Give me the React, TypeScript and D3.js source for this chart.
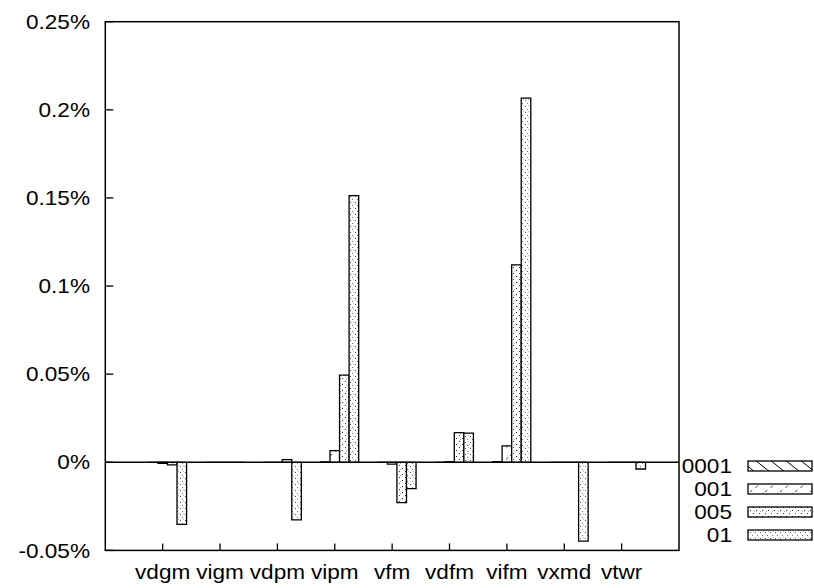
import React from 'react';
import * as d3 from 'd3';

const categories = ['vdgm', 'vigm', 'vdpm', 'vipm', 'vfm', 'vdfm', 'vifm', 'vxmd', 'vtwr'];
const seriesNames = ['0001', '001', '005', '01'];
const s0001 = [0, 0, 0, 0.0002, 0, 0, 0.0003, 0, 0];
const s001 = [-0.0006, 0, 0, 0.0066, -0.001, 0.0003, 0.0093, 0, 0];
const s005 = [-0.0015, 0, 0.0015, 0.0494, -0.0229, 0.0168, 0.112, 0, 0];
const s01 = [-0.0352, 0, -0.0327, 0.1513, -0.015, 0.0165, 0.2066, -0.0447, -0.0038];
const yTickValues = [-0.05, 0, 0.05, 0.1, 0.15, 0.2, 0.25];
const yTickLabels = ['-0.05%', '0%', '0.05%', '0.1%', '0.15%', '0.2%', '0.25%'];

const series = [s0001, s001, s005, s01];
const patternIds = ['p0001', 'p001', 'p005', 'p01'];

const FONT = 'Liberation Sans, Arial, Helvetica, sans-serif';
const FS = 20;
const SX = 1.13;

export default function App() {
  const left = 105.3, right = 679, top = 21.7, bottom = 550.4;
  const x = d3.scaleLinear().domain([0, categories.length + 1]).range([left, right]);
  const y = d3.scaleLinear().domain([-0.05, 0.25]).range([bottom, top]);
  const unit = x(1) - x(0);
  const nS = series.length;
  const bw = unit / (nS + 2);

  const barPath = (x0: number, x1: number, v: number) => {
    const y0 = y(0), y1 = y(v);
    return `M${x0},${y0}H${x1}V${y1}H${x0}Z`;
  };

  return (
    <svg width={814} height={588} style={{ position: 'absolute', left: 0, top: 0, background: '#fff' }}
      fontFamily={FONT} fontSize={FS}>
      <defs>
        <pattern id="p0001" patternUnits="userSpaceOnUse" width={15} height={12}>
          <rect width={15} height={12} fill="#fff" />
          <path d="M-15,-12L30,24M0,-12L30,12M-15,0L15,24" stroke="#000" strokeWidth={1} />
        </pattern>
        <pattern id="p001" patternUnits="userSpaceOnUse" width={15} height={12}>
          <rect width={15} height={12} fill="#fff" />
          <path d="M0,12L15,0" stroke="#444" strokeWidth={1} strokeDasharray="3,4" />
        </pattern>
        <pattern id="p005" patternUnits="userSpaceOnUse" width={6} height={6}>
          <rect width={6} height={6} fill="#fff" />
          <rect x={0} y={0} width={1} height={1} fill="#222" />
          <rect x={3} y={3} width={1} height={1} fill="#444" />
          <rect x={4} y={1} width={1} height={1} fill="#aaa" />
        </pattern>
        <pattern id="p01" patternUnits="userSpaceOnUse" width={5} height={6}>
          <rect width={5} height={6} fill="#fff" />
          <rect x={0} y={4} width={1} height={1} fill="#555" />
          <rect x={2} y={1} width={1} height={1} fill="#777" />
          <rect x={3} y={3} width={1} height={1} fill="#bbb" />
        </pattern>
      </defs>

      {/* bars */}
      {categories.map((c, i) =>
        series.map((s, j) => {
          const x0 = x(i + 1) + (j - 1.5) * bw;
          const x1 = x0 + bw;
          return (
            <path key={`${c}-${j}`} d={barPath(x0, x1, s[i])} fill={`url(#${patternIds[j]})`}
              stroke="#000" strokeWidth={1.3} />
          );
        })
      )}

      {/* zero axis */}
      <line x1={left} x2={right} y1={y(0)} y2={y(0)} stroke="#000" strokeWidth={1.4} />

      {/* frame */}
      <rect x={left} y={top} width={right - left} height={bottom - top} fill="none" stroke="#000" strokeWidth={1.5} />

      {/* y ticks */}
      {yTickValues.map((v, k) => (
        <g key={`yt${k}`}>
          <line x1={left} x2={left + 8} y1={y(v)} y2={y(v)} stroke="#000" strokeWidth={1.3} />
          <text transform={`translate(90,${y(v)}) scale(${SX},1)`} textAnchor="end" dy="0.36em" fill="#000">
            {yTickLabels[k]}
          </text>
        </g>
      ))}

      {/* x ticks */}
      {categories.map((c, i) => (
        <g key={`xt${i}`}>
          <line x1={x(i + 1)} x2={x(i + 1)} y1={bottom} y2={bottom - 7} stroke="#000" strokeWidth={1.3} />
          <text transform={`translate(${x(i + 1)},579) scale(${SX},1)`} textAnchor="middle" fill="#000">
            {c}
          </text>
        </g>
      ))}

      {/* legend */}
      {seriesNames.map((n, k) => {
        const cy = 466 + k * 23;
        return (
          <g key={`lg${k}`}>
            <text transform={`translate(732,${cy}) scale(${SX},1)`} textAnchor="end" dy="0.36em" fill="#000">
              {n}
            </text>
            <rect x={748} y={cy - 5} width={64} height={10} fill={`url(#${patternIds[k]})`} stroke="#000" strokeWidth={1.3} />
          </g>
        );
      })}
    </svg>
  );
}
